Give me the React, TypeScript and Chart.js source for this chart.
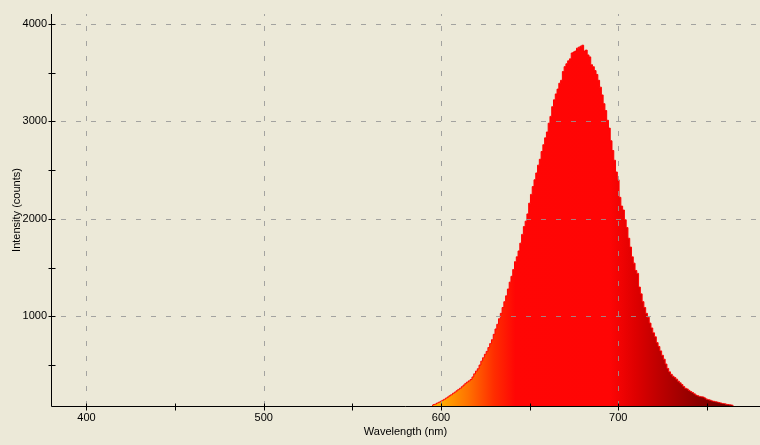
import React, { useEffect, useRef } from "react";
import { Chart, registerables } from "chart.js";

Chart.register(...registerables);

// Wavelength bins (nm)
const wavelengths = [
  595, 596, 597, 598, 599, 600, 601, 602, 603, 604,
  605, 606, 607, 608, 609, 610, 611, 612, 613, 614,
  615, 616, 617, 618, 619, 620, 621, 622, 623, 624,
  625, 626, 627, 628, 629, 630, 631, 632, 633, 634,
  635, 636, 637, 638, 639, 640, 641, 642, 643, 644,
  645, 646, 647, 648, 649, 650, 651, 652, 653, 654,
  655, 656, 657, 658, 659, 660, 661, 662, 663, 664,
  665, 666, 667, 668, 669, 670, 671, 672, 673, 674,
  675, 676, 677, 678, 679, 680, 681, 682, 683, 684,
  685, 686, 687, 688, 689, 690, 691, 692, 693, 694,
  695, 696, 697, 698, 699, 700, 701, 702, 703, 704,
  705, 706, 707, 708, 709, 710, 711, 712, 713, 714,
  715, 716, 717, 718, 719, 720, 721, 722, 723, 724,
  725, 726, 727, 728, 729, 730, 731, 732, 733, 734,
  735, 736, 737, 738, 739, 740, 741, 742, 743, 744,
  745, 746, 747, 748, 749, 750, 751, 752, 753, 754,
  755, 756, 757, 758, 759, 760, 761, 762, 763, 764,
  765,
];

// Intensity (counts)
const intensities = [
  85, 95, 100, 110, 118, 128, 138, 148, 160, 172,
  185, 196, 210, 222, 236, 250, 262, 278, 295, 312,
  326, 338, 352, 378, 410, 438, 462, 500, 540, 575,
  610, 640, 680, 720, 760, 815, 870, 918, 975, 1030,
  1090, 1150, 1210, 1280, 1350, 1410, 1480, 1560, 1610, 1670,
  1750, 1840, 1920, 1975, 2050, 2160, 2250, 2330, 2400, 2470,
  2550, 2610, 2690, 2760, 2830, 2890, 2980, 3050, 3150, 3220,
  3280, 3330, 3390, 3420, 3510, 3560, 3590, 3620, 3640, 3700,
  3710, 3720, 3750, 3760, 3770, 3780, 3720, 3730, 3680, 3660,
  3580, 3560, 3520, 3480, 3420, 3350, 3270, 3180, 3110, 3010,
  2930, 2800, 2700, 2600, 2480, 2400, 2220, 2130, 2090, 1990,
  1910, 1800, 1710, 1610, 1545, 1470, 1440, 1300, 1230, 1150,
  1090, 1030, 990, 930, 880, 830, 790, 730, 690, 645,
  600, 560, 510, 465, 430, 405, 385, 372, 355, 335,
  318, 300, 280, 262, 255, 240, 228, 218, 205, 192,
  185, 178, 175, 172, 162, 150, 145, 140, 132, 128,
  124, 120, 115, 110, 106, 104, 98, 95, 92, 90,
  86,
];

const xMajorTicks = [400, 500, 600, 700];
const xMinorTicks = [450, 550, 650, 750];
const yMajorTicks = [1000, 2000, 3000, 4000];
const yMinorTicks = [500, 1500, 2500, 3500];

const xTitle = "Wavelength (nm)";
const yTitle = "Intensity (counts)";

// colour stops for the spectrum fill: [wavelength, colour]
const spectrumStops: [number, string][] = [
  [600, "rgb(255,172,0)"],
  [615, "rgb(255,115,0)"],
  [630, "rgb(255,45,0)"],
  [642, "rgb(255,6,5)"],
  [695, "rgb(255,5,5)"],
  [710, "rgb(222,0,0)"],
  [725, "rgb(185,0,0)"],
  [745, "rgb(140,0,0)"],
  [765, "rgb(110,0,0)"],
];

const BG = "#ECE9D8";
const FONT = '"Liberation Sans", Arial, sans-serif';

export default function App() {
  const canvasRef = useRef<HTMLCanvasElement | null>(null);

  useEffect(() => {
    const canvas = canvasRef.current;
    if (!canvas) return;

    const decor = {
      id: "decor",
      beforeDraw(chart: any) {
        const c = chart.ctx;
        c.save();
        c.fillStyle = BG;
        c.fillRect(0, 0, chart.width, chart.height);
        c.restore();
      },
      afterDatasetsDraw(chart: any) {
        const c = chart.ctx;
        const { left, right, top, bottom } = chart.chartArea;
        const xs = chart.scales.x;
        const ys = chart.scales.y;
        c.save();
        // dashed grid on top of data
        c.strokeStyle = "rgba(150,150,150,0.85)";
        c.lineWidth = 1;
        c.setLineDash([5, 10]);
        xMajorTicks.forEach((v) => {
          const px = Math.round(xs.getPixelForValue(v)) + 0.5;
          c.beginPath();
          c.moveTo(px, bottom);
          c.lineTo(px, top);
          c.stroke();
        });
        yMajorTicks.forEach((v) => {
          const py = Math.round(ys.getPixelForValue(v)) + 0.5;
          c.beginPath();
          c.moveTo(left + 10, py);
          c.lineTo(right, py);
          c.stroke();
        });
        c.setLineDash([]);
        // axes
        c.strokeStyle = "#000";
        const ax = Math.round(left) + 0.5;
        const ay = Math.round(bottom) + 0.5;
        c.beginPath();
        c.moveTo(ax, top);
        c.lineTo(ax, ay);
        c.lineTo(right, ay);
        c.stroke();
        // tick marks crossing the axes
        [...xMajorTicks, ...xMinorTicks].forEach((v) => {
          const px = Math.round(xs.getPixelForValue(v)) + 0.5;
          c.beginPath();
          c.moveTo(px, ay - 3);
          c.lineTo(px, ay + 4);
          c.stroke();
        });
        [...yMajorTicks, ...yMinorTicks].forEach((v) => {
          const py = Math.round(ys.getPixelForValue(v)) + 0.5;
          c.beginPath();
          c.moveTo(ax - 3, py);
          c.lineTo(ax + 4, py);
          c.stroke();
        });
        c.restore();
      },
      afterDraw(chart: any) {
        const c = chart.ctx;
        const { left, right, top, bottom } = chart.chartArea;
        c.save();
        c.fillStyle = "#000";
        c.font = `11px ${FONT}`;
        c.textAlign = "center";
        c.textBaseline = "middle";
        c.fillText(xTitle, (left + right) / 2, 432);
        c.translate(17, (top + bottom) / 2);
        c.rotate(-Math.PI / 2);
        c.fillText(yTitle, 0, 0);
        c.restore();
      },
    };

    const chart = new Chart(canvas, {
      type: "line",
      data: {
        datasets: [
          {
            data: wavelengths.map((w, i) => ({ x: w, y: intensities[i] })),
            stepped: "middle",
            fill: "start",
            borderColor: "#ff0000",
            borderWidth: 1,
            pointRadius: 0,
            tension: 0,
            backgroundColor: (ctx: any) => {
              const ch = ctx.chart;
              const xs = ch.scales && ch.scales.x;
              if (!ch.chartArea || !xs) return "rgb(255,5,5)";
              const x0 = xs.getPixelForValue(spectrumStops[0][0]);
              const x1 = xs.getPixelForValue(spectrumStops[spectrumStops.length - 1][0]);
              const g = ch.ctx.createLinearGradient(x0, 0, x1, 0);
              const span = spectrumStops[spectrumStops.length - 1][0] - spectrumStops[0][0];
              spectrumStops.forEach(([w, col]) => {
                g.addColorStop((w - spectrumStops[0][0]) / span, col);
              });
              return g;
            },
          } as any,
        ],
      },
      options: {
        responsive: false,
        animation: false,
        devicePixelRatio: 1,
        layout: { padding: { top: 14, right: 0, left: 0, bottom: 0 } },
        plugins: {
          legend: { display: false },
          tooltip: { enabled: false },
          title: { display: false },
        },
        scales: {
          x: {
            type: "linear",
            min: 380,
            max: 780,
            grid: { display: false, drawTicks: false },
            border: { display: false },
            afterBuildTicks: (s: any) => {
              s.ticks = [...xMajorTicks, ...xMinorTicks]
                .sort((a, b) => a - b)
                .map((v) => ({ value: v }));
            },
            afterFit: (s: any) => {
              s.height = 39;
            },
            ticks: {
              autoSkip: false,
              maxRotation: 0,
              padding: 5,
              color: "#000",
              font: { family: FONT, size: 11 },
              callback: (v: any) => (xMajorTicks.includes(Number(v)) ? String(v) : ""),
            },
          },
          y: {
            type: "linear",
            min: 80,
            max: 4100,
            grid: { display: false, drawTicks: false },
            border: { display: false },
            afterBuildTicks: (s: any) => {
              s.ticks = [...yMajorTicks, ...yMinorTicks]
                .sort((a, b) => a - b)
                .map((v) => ({ value: v }));
            },
            afterFit: (s: any) => {
              s.width = 51;
            },
            ticks: {
              autoSkip: false,
              padding: 4,
              color: "#000",
              font: { family: FONT, size: 11 },
              callback: (v: any) => (yMajorTicks.includes(Number(v)) ? String(v) : ""),
            },
          },
        },
      },
      plugins: [decor],
    } as any);

    return () => chart.destroy();
  }, []);

  return (
    <div
      style={{
        position: "fixed",
        left: 0,
        top: 0,
        width: 760,
        height: 445,
        background: BG,
      }}
    >
      <canvas ref={canvasRef} width={760} height={445} style={{ display: "block" }} />
    </div>
  );
}
